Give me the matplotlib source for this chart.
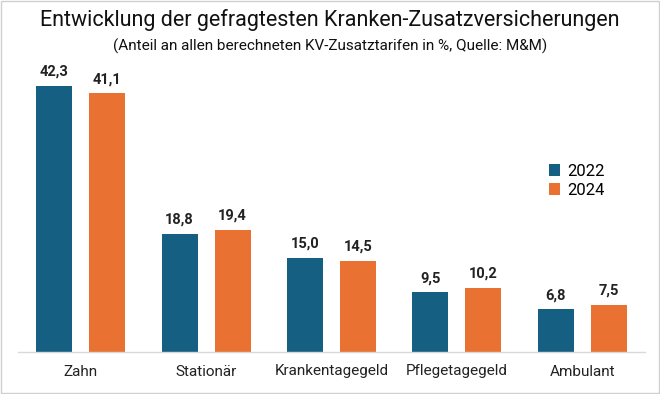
import matplotlib
matplotlib.use("Agg")
import matplotlib.pyplot as plt
import numpy as np
from matplotlib.patches import Rectangle

categories = ["Zahn", "Stationär", "Krankentagegeld", "Pflegetagegeld", "Ambulant"]
values_2022 = [42.3, 18.8, 15.0, 9.5, 6.8]
values_2024 = [41.1, 19.4, 14.5, 10.2, 7.5]
series_labels = ["2022", "2024"]

C22 = "#156082"
C24 = "#E97132"

plt.rcParams['font.family'] = ['Liberation Sans Narrow', 'Roboto', 'DejaVu Sans']

fig = plt.figure(figsize=(6.6, 3.94), dpi=100)
ax = fig.add_axes([18/660, 1-352/394, (645-18)/660, (352-68.5)/394])

x = np.arange(len(categories))
w = 0.287
off = 0.212
b1 = ax.bar(x - off, values_2022, w, color=C22, label=series_labels[0])
b2 = ax.bar(x + off, values_2024, w, color=C24, label=series_labels[1])

def fmt(v):
    return f"{v:.1f}".replace(".", ",")

for bars, vals in ((b1, values_2022), (b2, values_2024)):
    for r, v in zip(bars, vals):
        ax.annotate(fmt(v), (r.get_x() + r.get_width()/2, v), xytext=(0, 5),
                    textcoords="offset points", ha="center", va="bottom",
                    fontsize=10.5, fontweight="bold", color="#222222")

ax.set_xlim(-0.5, 4.5)
ax.set_ylim(0, 45)
ax.set_yticks([])
ax.set_xticks(x)
ax.set_xticklabels(categories, fontsize=11, color="#222222")
ax.tick_params(axis="x", length=0, pad=9)
for s in ("top", "right", "left"):
    ax.spines[s].set_visible(False)
ax.spines["bottom"].set_color("#d9d9d9")
ax.spines["bottom"].set_linewidth(1)

fig.text(0.5, 1-20/394, "Entwicklung der gefragtesten Kranken-Zusatzversicherungen",
         ha="center", va="center", fontsize=15.5, color="#111111")
fig.text(0.5, 1-46/394, "(Anteil an allen berechneten KV-Zusatztarifen in %, Quelle: M&M)",
         ha="center", va="center", fontsize=11, color="#111111")

leg = ax.legend(loc="upper left", bbox_to_anchor=((542-18)/627, 1-(157-68.5)/283.5),
                frameon=False, fontsize=12, handlelength=0.7, handleheight=0.7,
                handletextpad=0.4, labelspacing=0.25, borderaxespad=0)

fig.patches.append(Rectangle((0.002, 0.002), 0.996, 0.996, transform=fig.transFigure,
                             fill=False, edgecolor="#d0d0d0", linewidth=1))

fig.savefig("out.png", dpi=100)
